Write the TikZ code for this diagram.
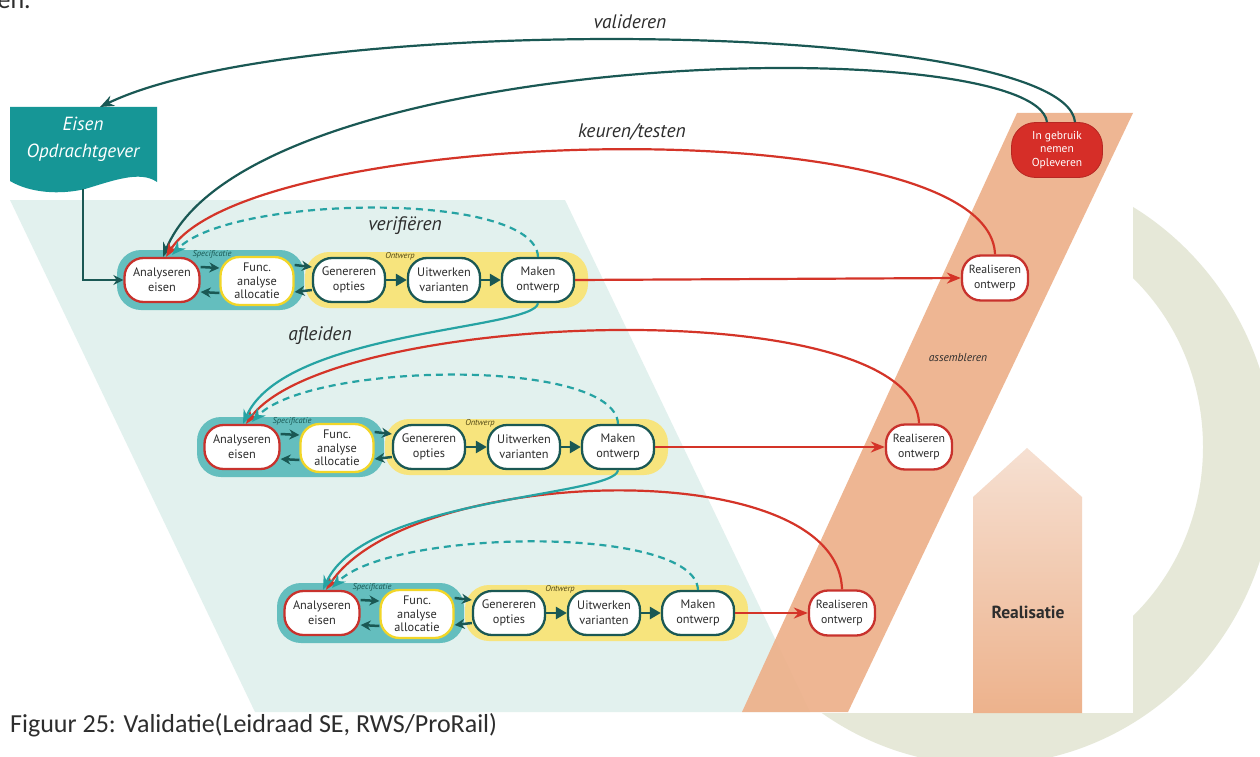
\documentclass[tikz,border=0pt]{standalone}
\usepackage{fontspec}
\setmainfont{PT Sans}
\newfontfamily\capfont{Carlito}
\usetikzlibrary{arrows.meta}

\definecolor{ringgrey}{RGB}{230,232,216}
\definecolor{paleteal}{RGB}{226,241,238}
\definecolor{peach}{RGB}{237,176,138}
\definecolor{darkteal}{RGB}{26,88,84}
\definecolor{midteal}{RGB}{38,163,163}
\definecolor{flagteal}{RGB}{22,150,150}
\definecolor{specteal}{RGB}{100,190,190}
\definecolor{designyellow}{RGB}{247,228,125}
\definecolor{arcred}{RGB}{212,52,40}
\definecolor{nodered}{RGB}{200,50,45}
\definecolor{funcyellow}{RGB}{242,214,40}
\definecolor{textgrey}{RGB}{45,45,45}
\definecolor{usered}{RGB}{214,46,40}

\tikzset{
  proc/.style={draw, line width=2.3pt, fill=white, rounded corners=19pt,
    minimum width=72pt, minimum height=44pt, inner sep=0pt, align=center,
    font=\fontsize{12.3}{15}\selectfont, text=textgrey},
  reqnode/.style={proc, draw=nodered, minimum width=75pt},
  funcnode/.style={proc, draw=funcyellow, minimum width=73pt, minimum height=48pt,
    font=\fontsize{12.3}{13.6}\selectfont},
  dsgnode/.style={proc, draw=darkteal},
  realnode/.style={proc, draw=nodered, minimum width=66pt, minimum height=45pt,
    font=\fontsize{11.8}{15}\selectfont},
  usenode/.style={fill=usered, draw=usered!85!black, line width=0.8pt,
    rounded corners=24pt, minimum width=91pt, minimum height=55pt, inner sep=0pt,
    align=center, text=white, font=\fontsize{11.5}{13.8}\selectfont},
  flow/.style={draw=darkteal, line width=2.5pt, -{Stealth[length=10pt,width=10pt]}},
  bigflow/.style={draw=darkteal, line width=2.5pt, -{Triangle[length=11pt,width=12pt]}},
  valarc/.style={draw=darkteal, line width=2.2pt, -{Stealth[length=14pt,width=11pt]}},
  redarc/.style={draw=arcred, line width=2.2pt, -{Stealth[length=14pt,width=11pt]}},
  derivarc/.style={draw=midteal, line width=2.2pt, -{Stealth[length=14pt,width=11pt]}},
  verarc/.style={draw=midteal, line width=2.2pt, dash pattern=on 7pt off 5pt,
    -{Stealth[length=14pt,width=11pt]}},
  bigitalic/.style={font=\fontsize{19.5}{23}\itshape, text=textgrey},
  grouplbl/.style={font=\fontsize{8.5}{9}\itshape, inner sep=0pt},
}

\begin{document}
\begin{tikzpicture}[x=1pt,y=-1pt]
\useasboundingbox (0,0) rectangle (1260,757);
\clip (0,0) rectangle (1260,757);
\fill[white] (0,0) rectangle (1260,757);

% background ring and the white diagram sheet
\fill[ringgrey, even odd rule] (985,465) ellipse [x radius=290pt, y radius=300pt]
                               (985,447) ellipse [x radius=218pt, y radius=230pt];
\fill[white] (0,0) rectangle (1133,713);

% design area and assembly band
\fill[paleteal] (10,200) -- (565,200) -- (810,712) -- (255,712) -- cycle;
\fill[peach, opacity=0.92] (1017,113) -- (1133,113) -- (848,712) -- (742,712) -- cycle;

% realisation arrow
\shade[top color={rgb,255:red,246;green,224;blue,210}, bottom color={rgb,255:red,237;green,178;blue,140}]
  (973,713) -- (973,497) -- (1027,448) -- (1082,497) -- (1082,713) -- cycle;
\node[font=\fontsize{17.5}{20}\bfseries, text=textgrey] (realtxt) at (1028,612) {Realisatie};

% text cut off at the top edge
\node[anchor=base east, font=\capfont\fontsize{26}{30}\selectfont, text=textgrey, inner sep=0pt] (prev) at (31,9) {en.};

% customer requirements flag
\fill[flagteal] (10,107) -- (157,107) -- (157,182)
  .. controls (140,170) and (112,181) .. (85,189)
  .. controls (60,195) and (30,193) .. (10,181) -- cycle;
\node[font=\fontsize{19}{27}\itshape\selectfont, text=white, align=center] (eisen) at (83,139) {Eisen\\Opdrachtgever};
\coordinate (eisentop) at (100,107);
\coordinate (eisenfoot) at (83,189);

% handover node
\node[usenode] (use) at (1057,150) {In gebruik\\nemen\\Opleveren};

% three levels of the design cycle
\foreach \i/\dx/\dy in {1/0/0, 2/80/167, 3/160/333} {
  \begin{scope}[shift={(\dx,\dy)}]
    \fill[specteal, rounded corners=24pt] (117,250) rectangle (304,310);
    \fill[designyellow, rounded corners=24pt] (305,252) rectangle (588,308);
    \node[grouplbl, text=darkteal] (spec\i) at (212,254) {Specificatie};
    \node[grouplbl, text={rgb,255:red,80;green,70;blue,20}] (ontw\i) at (400,256) {Ontwerp};
    \node[reqnode] (A\i) at (162,280) {Analyseren\\eisen};
    \node[funcnode] (F\i) at (257,281) {Func.\\analyse\\allocatie};
    \node[dsgnode] (G\i) at (349,280) {Genereren\\opties};
    \node[dsgnode] (U\i) at (444,280) {Uitwerken\\varianten};
    \node[dsgnode] (M\i) at (538,280) {Maken\\ontwerp};
  \end{scope}
  \draw[flow] ([yshift=13pt]A\i.east) -- ([yshift=13pt]F\i.west);
  \draw[flow] ([yshift=-12pt]F\i.west) -- ([yshift=-12pt]A\i.east);
  \draw[flow] ([yshift=16pt]F\i.east) -- ([yshift=13pt]G\i.west);
  \draw[flow] ([yshift=-10pt]G\i.west) -- ([yshift=-11pt]F\i.east);
  \draw[bigflow] (G\i.east) -- (U\i.west);
  \draw[bigflow] (U\i.east) -- (M\i.west);
}

% realisation nodes
\node[realnode] (R1) at (995,278) {Realiseren\\ontwerp};
\node[realnode] (R2) at (919,447) {Realiseren\\ontwerp};
\node[realnode] (R3) at (842,613) {Realiseren\\ontwerp};

% labels
\node[bigitalic] (lblval) at (630,22) {valideren};
\node[bigitalic] (lblkeur) at (632,132) {keuren/testen};
\node[bigitalic] (lblver) at (405,226) {verifiëren};
\node[bigitalic] (lblafl) at (320,336) {afleiden};
\node[font=\fontsize{11.5}{13}\itshape, text=textgrey] (lblasm) at (958,358) {assembleren};

% requirements into the first analysis
\draw[flow] (eisenfoot) |- (A1.west);

% validation
\draw[valarc] ([xshift=18pt]use.north) .. controls (1065,20) and (300,10) .. (eisentop);
\draw[valarc] ([xshift=-10pt]use.north) .. controls (1035,30) and (250,45) .. ([xshift=1pt]A1.north);

% design to realisation
\draw[redarc] (M1.east) -- (R1.west);
\draw[redarc] (M2.east) -- (R2.west);
\draw[redarc] (M3.east) -- (R3.west);

% inspection and testing
\draw[redarc] (R1.north) .. controls (990,105) and (250,125) .. ([xshift=4pt]A1.north);
\draw[redarc] (R2.north) .. controls (915,290) and (330,310) .. ([xshift=4pt]A2.north);
\draw[redarc] (R3.north) .. controls (838,452) and (410,465) .. ([xshift=4pt]A3.north);

% verification
\draw[verarc] (M1.north) .. controls (535,190) and (230,195) .. ([xshift=10pt,yshift=2pt]A1.north);
\draw[verarc] (M2.north) .. controls (615,357) and (310,362) .. ([xshift=10pt,yshift=2pt]A2.north);
\draw[verarc] (M3.north) .. controls (695,524) and (390,529) .. ([xshift=10pt,yshift=2pt]A3.north);

% derivation to the next level
\draw[derivarc] (M1.south) .. controls (535,330) and (285,330) .. ([xshift=1pt]A2.north);
\draw[derivarc] (M2.south) .. controls (615,497) and (365,497) .. ([xshift=1pt]A3.north);

% caption
\node[anchor=west, font=\capfont\fontsize{26}{30}\selectfont, text=textgrey, inner sep=0pt] (caption) at (10,725) {Figuur 25: Validatie(Leidraad SE, RWS/ProRail)};
\end{tikzpicture}
\end{document}
